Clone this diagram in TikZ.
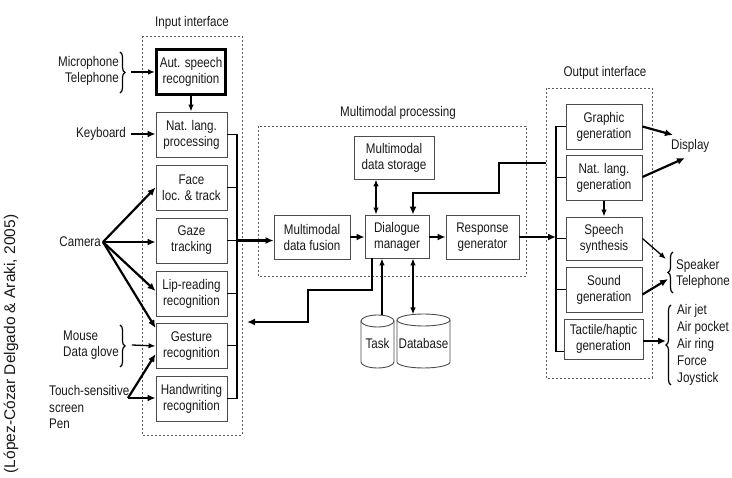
\documentclass[tikz,border=0pt]{standalone}
\usepackage{fontspec}
\setmainfont{Liberation Sans}[FakeStretch=0.83]
\newfontfamily\widefont{Liberation Sans}
\usetikzlibrary{arrows.meta,decorations.pathreplacing,calc}
\begin{document}
\begin{tikzpicture}[x=1pt,y=1pt,
  txt/.style={font=\fontsize{14}{16}\selectfont, text=black!90, inner sep=0pt},
  blk/.style={txt, draw=black!70, line width=0.9pt, align=center, minimum height=45, inner sep=0pt},
  zone/.style={draw=black!65, line width=0.8pt, dash pattern=on 2pt off 2pt},
  arr/.style={-{Latex[length=7pt,width=5.5pt]}, line width=1.3pt},
  thk/.style={-{Latex[length=8pt,width=7pt]}, line width=2.2pt},
  ln/.style={line width=1pt},
  bus/.style={line width=2pt},
  dbl/.style={{Latex[length=7pt,width=5.5pt]}-{Latex[length=7pt,width=5.5pt]}, line width=1.3pt},
  brc/.style={decorate, decoration={brace, amplitude=5pt}, line width=1.2pt},
  cyl/.style={draw=black!70, line width=0.9pt},
]
\useasboundingbox (0,0) rectangle (732,-478);

% zones
\draw[zone] (142,-36) rectangle (242,-435);
\draw[zone] (258,-126) rectangle (526,-276);
\draw[zone] (546,-88) rectangle (652,-378);
\node[txt] (lin) at (192,-23) {Input interface};
\node[txt] (lmp) at (398,-113) {Multimodal processing};
\node[txt] (lout) at (605,-73) {Output interface};

% input blocks
\node[blk, draw=black, line width=3pt, minimum width=69] (asr) at (191,-72) {Aut. speech\\recognition};
\node[blk, minimum width=71] (nlp) at (191.5,-134.5) {Nat. lang.\\processing};
\node[blk, minimum width=71] (face) at (191.5,-187.5) {Face\\loc. \& track};
\node[blk, minimum width=71] (gaze) at (191.5,-240.5) {Gaze\\tracking};
\node[blk, minimum width=71] (lip) at (191.5,-293.5) {Lip-reading\\recognition};
\node[blk, minimum width=71] (ges) at (191.5,-346) {Gesture\\recognition};
\node[blk, minimum width=71] (hw) at (191.5,-399) {Handwriting\\recognition};

% multimodal processing
\node[blk, minimum width=80, minimum height=43] (mds) at (394,-157.5) {Multimodal\\data storage};
\node[blk, minimum width=76, minimum height=44] (mdf) at (312,-237) {Multimodal\\data fusion};
\node[blk, minimum width=64, minimum height=43] (dm) at (397,-236.5) {Dialogue\\manager};
\node[blk, minimum width=73, minimum height=44] (rg) at (482.5,-237) {Response\\generator};

% output blocks
\node[blk, minimum width=76] (gg) at (604,-126.5) {Graphic\\generation};
\node[blk, minimum width=76] (nlg) at (604,-178) {Nat. lang.\\generation};
\node[blk, minimum width=76, minimum height=43] (ss) at (604,-238.5) {Speech\\synthesis};
\node[blk, minimum width=76] (snd) at (604,-289.5) {Sound\\generation};
\node[blk, minimum width=79, minimum height=40] (tac) at (603.5,-339) {Tactile/haptic\\generation};

% cylinders
\draw[cyl] (361,-321) -- (361,-362) arc[start angle=180, end angle=360, x radius=16.5, y radius=6] -- (394,-321);
\draw[cyl] (377.5,-321) ellipse[x radius=16.5, y radius=6];
\draw[cyl] (397,-320) -- (397,-362) arc[start angle=180, end angle=360, x radius=26.5, y radius=6] -- (450,-320);
\draw[cyl] (423.5,-320) ellipse[x radius=26.5, y radius=6];
\node[txt] (task) at (377.5,-343) {Task};
\node[txt] (db) at (423.5,-343) {Database};

% sources
\node[txt, anchor=east, align=right] (mic) at (119,-71) {Microphone\\Telephone};
\node[txt, anchor=east] (kb) at (126,-134) {Keyboard};
\node[txt, anchor=east] (cam) at (101,-242) {Camera};
\node[txt, anchor=west, align=left] (mouse) at (63,-345) {Mouse\\Data glove};
\node[txt, anchor=west, align=left, font=\fontsize{14}{16.5}\selectfont] (touch) at (49,-407) {Touch-sensitive\\screen\\Pen};

% sinks
\node[txt, anchor=west] (disp) at (671,-146) {Display};
\node[txt, anchor=west, align=left] (spk) at (676,-274) {Speaker\\Telephone};
\node[txt, anchor=west, align=left, font=\fontsize{14}{17}\selectfont] (air) at (677,-345) {Air jet\\Air pocket\\Air ring\\Force\\Joystick};

% citation
\node[font=\widefont\fontsize{15.5}{18}\selectfont, rotate=90, text=black!90, inner sep=0pt] (cite) at (11,-344) {(López-Cózar Delgado \& Araki, 2005)};

% braces
\draw[brc] (120,-52) -- (120,-93);
\draw[brc] (120,-325) -- (120,-367);
\draw[brc] (673,-293) -- (673,-252);
\draw[brc] (671,-385) -- (671,-305);

% coordinates
\coordinate (bx) at (237,0);
\coordinate (ox) at (556,0);
\coordinate (cp) at (103,-242);
\coordinate (tp) at (128,-398);
\coordinate (sx) at (376,0);

% source arrows
\draw[arr] ($(mic.east)+(12,-1)$) -- (asr.west);
\draw[thk] ($(kb.east)+(5,0)$) -- (nlp.west |- kb.east);
\draw[thk] (cp) -- (face.west);
\draw[thk] (cp) -- (gaze.west |- cp);
\draw[thk] (cp) -- ($(lip.west)+(0,2.5)$);
\draw[thk] (cp) -- ($(ges.west)+(0,18)$);
\draw[arr] ($(mouse.east)+(13,0)$) -- (ges.west);
\draw[thk] (tp) -- ($(ges.west)+(0,-8)$);
\draw[thk] (tp) -- (hw.west |- tp);

% input internal
\draw[arr] (asr.south) -- (asr.south |- nlp.north);
\draw[bus] (nlp.east -| bx) -- (hw.east -| bx);
\foreach \n in {nlp,face,gaze,lip,ges,hw} \draw[ln] (\n.east) -- (\n.east -| bx);
\draw[thk] (gaze.east -| bx) -- (gaze.east -| mdf.west);

% multimodal internal
\draw[thk] (mdf.east) -- (dm.west |- mdf.east);
\draw[thk] (dm.east |- rg.west) -- (rg.west);
\draw[dbl] (sx |- mds.south) -- (sx |- dm.north);
\coordinate (oi) at (546,-163);
\draw[thk] (oi) -- (499,-163) -- (499,-193) -- (413,-193) -- (413,0 |- dm.north);
\coordinate (fb) at (247,-322);
\draw[thk] (372,0 |- dm.south) -- (372,-290) -- (308,-290) -- (308,-322) -- (fb);
\draw[arr] (382,-315.3) -- (382,0 |- dm.south);
\draw[dbl] (413,0 |- dm.south) -- (413,-314.5);
\draw[thk] (rg.east) -- (rg.east -| ox);

% output internal
\draw[bus] (gg.west -| ox) -- (556,-352);
\foreach \n in {gg,nlg,ss,snd} \draw[ln] (\n.west) -- (\n.west -| ox);
\draw[ln] (556,-352) -- (tac.west |- 0,-352);
\draw[arr] (nlg.south) -- (nlg.south |- ss.north);

% output arrows
\draw[thk] (gg.east) -- (673,-135);
\draw[thk] ($(nlg.east)+(0,1)$) -- (685,-158);
\draw[arr] (ss.east) -- (666,-259);
\draw[thk] ($(snd.east)+(0,-5)$) -- (668,-279);
\draw[thk] ($(tac.east)+(0,-2)$) -- (666,-341);
\end{tikzpicture}
\end{document}
